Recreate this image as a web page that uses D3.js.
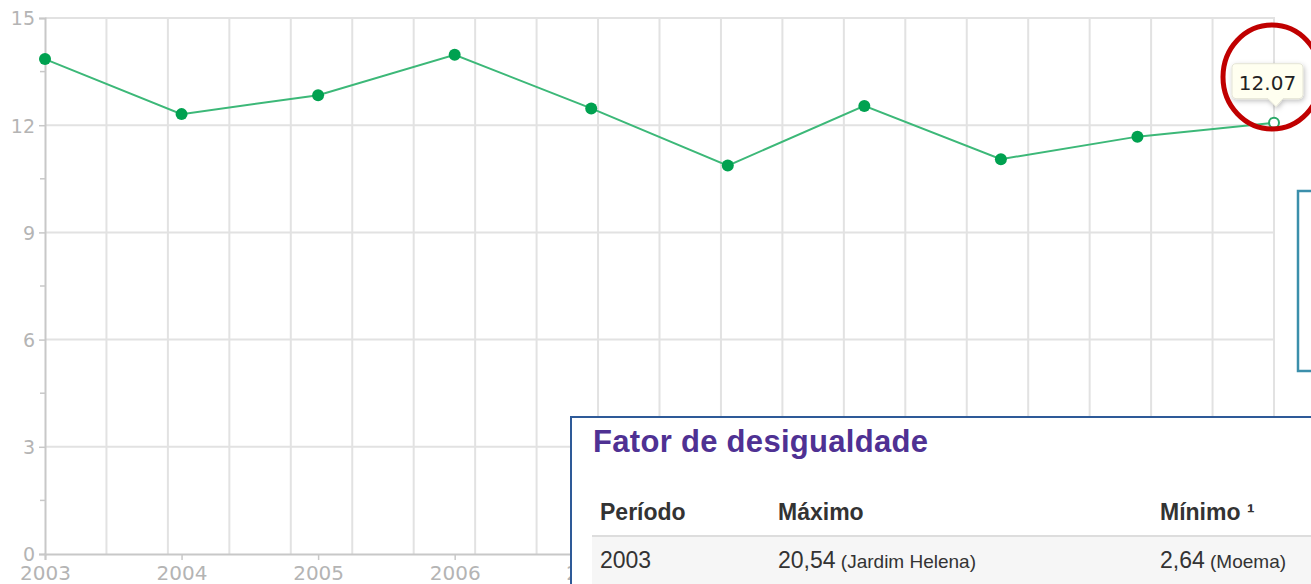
<!DOCTYPE html>
<html>
<head>
<meta charset="utf-8">
<script src="https://cdn.jsdelivr.net/npm/d3@7"></script>
<style>
  html, body { margin: 0; padding: 0; background: #fff; overflow: hidden; }
  svg { display: block; }
  .axisLabel { font-family: "DejaVu Sans", sans-serif; fill: #b4b4b4; }
  .tblText { font-family: "Liberation Sans", Arial, sans-serif; fill: #333; }
</style>
</head>
<body>
<div id="chart"></div>
<script>
// data
const years = [2003, 2004, 2005, 2006, 2007, 2008, 2009, 2010, 2011, 2012];
const values = [13.85, 12.31, 12.84, 13.97, 12.47, 10.87, 12.54, 11.05, 11.68, 12.07];
const yTicks = [0, 3, 6, 9, 12, 15];
const yMinorTicks = [1.5, 4.5, 7.5, 10.5, 13.5];
const tooltipText = "12.07";

// table under the chart
const tableTitle = "Fator de desigualdade";
const tableHeaders = ["Período", "Máximo", "Mínimo ¹"];
const tableRow = [
  {main: "2003", note: ""},
  {main: "20,54", note: "(Jardim Helena)"},
  {main: "2,64", note: "(Moema)"}
];

let width = 1311, height = 584;
let margin = {top: 18, left: 45, right: 37, bottom: 30};

const svg = d3.select("#chart").append("svg")
  .attr("width", width)
  .attr("height", height);

const defs = svg.append("defs");
const shadow = defs.append("filter").attr("id", "tipShadow")
  .attr("x", "-30%").attr("y", "-30%").attr("width", "160%").attr("height", "180%");
shadow.append("feDropShadow")
  .attr("dx", 1).attr("dy", 2).attr("stdDeviation", 2.5)
  .attr("flood-color", "#000").attr("flood-opacity", 0.25);

// scales
const x = d3.scaleLinear()
  .domain([years[0], years[years.length - 1]])
  .range([margin.left, width - margin.right]);

const y = d3.scaleLinear()
  .domain([0, 15])
  .range([height - margin.bottom, margin.top]);

// gridlines (20 vertical intervals, independent of the year ticks)
const gridCount = 20;
const gx = d3.scaleLinear().domain([0, gridCount]).range(x.range());

svg.append("g")
  .selectAll("line")
  .data(d3.range(1, gridCount + 1))
  .join("line")
  .attr("x1", d => gx(d)).attr("x2", d => gx(d))
  .attr("y1", y(15)).attr("y2", y(0))
  .attr("stroke", "#e2e2e2")
  .attr("stroke-width", 2);

svg.append("g")
  .selectAll("line")
  .data(yTicks.filter(d => d > 0))
  .join("line")
  .attr("x1", x.range()[0]).attr("x2", x.range()[1] + 1)
  .attr("y1", d => y(d)).attr("y2", d => y(d))
  .attr("stroke", "#e2e2e2")
  .attr("stroke-width", 2);

// left axis
const yAxis = svg.append("g")
  .attr("transform", "translate(" + margin.left + ",0)")
  .call(d3.axisLeft(y).tickValues(yTicks).tickSize(6).tickPadding(4).tickFormat(d3.format("d")));
yAxis.select(".domain").attr("stroke", "#c8c8c8").attr("stroke-width", 2);
yAxis.selectAll(".tick line").attr("stroke", "#c8c8c8").attr("stroke-width", 1.5);
yAxis.selectAll(".tick text").attr("class", "axisLabel").style("font-size", "19px").attr("dy", "0.36em");

svg.append("g")
  .selectAll("line")
  .data(yMinorTicks)
  .join("line")
  .attr("x1", margin.left - 5).attr("x2", margin.left)
  .attr("y1", d => y(d)).attr("y2", d => y(d))
  .attr("stroke", "#c8c8c8")
  .attr("stroke-width", 1.5);

// bottom axis
const xAxis = svg.append("g")
  .attr("transform", "translate(0," + y(0) + ")")
  .call(d3.axisBottom(x).tickValues(years).tickSize(6).tickPadding(6).tickFormat(d3.format("d")));
xAxis.select(".domain").attr("stroke", "#c8c8c8").attr("stroke-width", 2);
xAxis.selectAll(".tick line").attr("stroke", "#c8c8c8").attr("stroke-width", 1.5);
xAxis.selectAll(".tick text").attr("class", "axisLabel").style("font-size", "20px");

// line
const points = years.map((d, i) => ({year: d, value: values[i]}));

svg.append("path")
  .datum(points)
  .attr("fill", "none")
  .attr("stroke", "#3cb878")
  .attr("stroke-width", 2)
  .attr("d", d3.line().x(d => x(d.year)).y(d => y(d.value)));

svg.append("g")
  .selectAll("circle")
  .data(points.slice(0, -1))
  .join("circle")
  .attr("cx", d => x(d.year))
  .attr("cy", d => y(d.value))
  .attr("r", 6)
  .attr("fill", "#00a150");

const last = points[points.length - 1];
svg.append("circle")
  .attr("cx", x(last.year))
  .attr("cy", y(last.value))
  .attr("r", 5)
  .attr("fill", "#fff")
  .attr("stroke", "#2aa868")
  .attr("stroke-width", 2);

// tooltip
const px = x(last.year), py = y(last.value);
const tipL = px - 42, tipR = px + 29, tipT = py - 59, tipB = py - 24, rr = 4;
const tipPath = "M" + (tipL + rr) + "," + tipT +
  " H" + (tipR - rr) + " Q" + tipR + "," + tipT + " " + tipR + "," + (tipT + rr) +
  " V" + (tipB - rr) + " Q" + tipR + "," + tipB + " " + (tipR - rr) + "," + tipB +
  " H" + (px + 9) + " L" + (px + 2) + "," + (tipB + 8) + " L" + (px - 6) + "," + tipB +
  " H" + (tipL + rr) + " Q" + tipL + "," + tipB + " " + tipL + "," + (tipB - rr) +
  " V" + (tipT + rr) + " Q" + tipL + "," + tipT + " " + (tipL + rr) + "," + tipT + " Z";
svg.append("path")
  .attr("d", tipPath)
  .attr("fill", "#fffff0")
  .attr("stroke", "#e4e4d6")
  .attr("stroke-width", 1)
  .attr("filter", "url(#tipShadow)");
svg.append("text")
  .attr("x", (tipL + tipR) / 2)
  .attr("y", tipT + 26)
  .attr("text-anchor", "middle")
  .style("font-family", "DejaVu Sans, sans-serif")
  .style("font-size", "20px")
  .attr("fill", "#222")
  .text(tooltipText);

// red annotation ring
svg.append("ellipse")
  .attr("cx", px - 2)
  .attr("cy", 77)
  .attr("rx", 49)
  .attr("ry", 52)
  .attr("fill", "none")
  .attr("stroke", "#c00000")
  .attr("stroke-width", 5);

// teal box at right
svg.append("rect")
  .attr("x", 1298).attr("y", 191)
  .attr("width", 40).attr("height", 180)
  .attr("fill", "#fff")
  .attr("stroke", "#3b8fab")
  .attr("stroke-width", 2.5);

// table panel
const panel = svg.append("g").attr("transform", "translate(571,417)");
panel.append("rect")
  .attr("x", 0).attr("y", 0)
  .attr("width", 800).attr("height", 300)
  .attr("fill", "#fff")
  .attr("stroke", "#2e5a98")
  .attr("stroke-width", 2);

panel.append("text")
  .attr("x", 22).attr("y", 35)
  .style("font-family", "Liberation Sans, Arial, sans-serif")
  .style("font-size", "31px")
  .style("font-weight", "bold")
  .style("letter-spacing", "0.3px")
  .attr("fill", "#4f3193")
  .text(tableTitle);

const colX = [29, 207, 589];

panel.append("rect")
  .attr("x", 21).attr("y", 120)
  .attr("width", 800).attr("height", 60)
  .attr("fill", "#f6f6f6");
panel.append("line")
  .attr("x1", 21).attr("x2", 800)
  .attr("y1", 119).attr("y2", 119)
  .attr("stroke", "#dddddd")
  .attr("stroke-width", 2);

panel.selectAll(".hdr")
  .data(tableHeaders)
  .join("text")
  .attr("class", "tblText hdr")
  .attr("x", (d, i) => colX[i])
  .attr("y", 103)
  .style("font-size", "23px")
  .style("font-weight", "bold")
  .text(d => d);

const cells = panel.selectAll(".cell")
  .data(tableRow)
  .join("text")
  .attr("class", "tblText cell")
  .attr("x", (d, i) => colX[i])
  .attr("y", 151)
  .style("font-size", "23px");
cells.append("tspan").text(d => d.main);
cells.append("tspan")
  .style("font-size", "19px")
  .text(d => d.note ? " " + d.note : "");
</script>
</body>
</html>
